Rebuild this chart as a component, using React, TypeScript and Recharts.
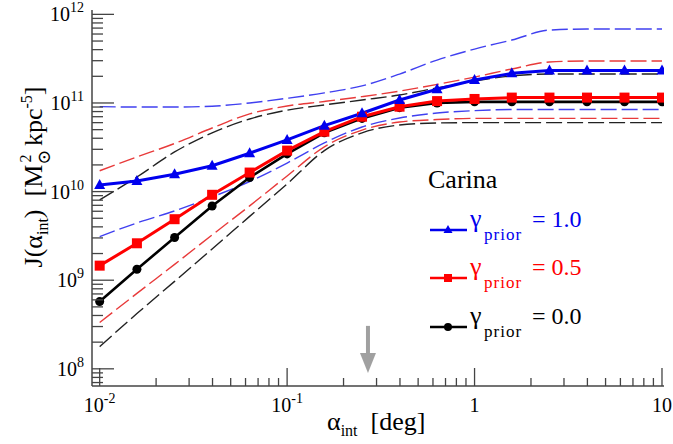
import React from 'react';
import { ComposedChart, Line, XAxis, YAxis, ReferenceDot } from 'recharts';

// alpha_int grid [deg]
const alphaInt = [0.01, 0.0158, 0.0251, 0.0398, 0.0631, 0.1, 0.158, 0.251, 0.398, 0.631, 1, 1.58, 2.51, 3.98, 6.31, 10];

// J(alpha_int) medians for each prior
const gamma10 = [1.19e10, 1.32e10, 1.57e10, 1.96e10, 2.71e10, 3.83e10, 5.55e10, 7.65e10, 1.08e11, 1.43e11, 1.82e11, 2.16e11, 2.33e11, 2.33e11, 2.33e11, 2.33e11];
const gamma05 = [1.46e9, 2.61e9, 4.88e9, 9.2e9, 1.64e10, 2.9e10, 4.74e10, 7.0e10, 9.08e10, 1.05e11, 1.11e11, 1.15e11, 1.15e11, 1.15e11, 1.15e11, 1.15e11];
const gamma00 = [5.74e8, 1.33e9, 3.03e9, 6.88e9, 1.44e10, 2.66e10, 4.6e10, 6.7e10, 8.85e10, 1.0e11, 1.03e11, 1.03e11, 1.03e11, 1.03e11, 1.03e11, 1.03e11];

// confidence bands (dashed)
const gamma10Hi = [9.1e10, 9.0e10, 9.0e10, 9.2e10, 1.0e11, 1.13e11, 1.3e11, 1.56e11, 2.12e11, 3.05e11, 4.06e11, 5.13e11, 6.65e11, 6.83e11, 6.83e11, 6.83e11];
const gamma10Lo = [3.1e9, 4.43e9, 6.05e9, 8.7e9, 1.3e10, 2.1e10, 3.54e10, 5.36e10, 6.77e10, 7.7e10, 8.2e10, 8.44e10, 8.44e10, 8.44e10, 8.44e10, 8.44e10];
const gamma05Hi = [1.72e10, 2.46e10, 3.49e10, 5.22e10, 7.52e10, 9.25e10, 1.04e11, 1.18e11, 1.36e11, 1.62e11, 1.96e11, 2.42e11, 2.9e11, 2.98e11, 2.98e11, 2.98e11];
const gamma05Lo = [3.33e8, 7.1e8, 1.51e9, 3.24e9, 6.9e9, 1.5e10, 3.2e10, 4.95e10, 6.1e10, 6.5e10, 6.7e10, 6.7e10, 6.7e10, 6.7e10, 6.7e10, 6.7e10];
const gamma00Hi = [8.05e9, 1.46e10, 2.8e10, 4.6e10, 6.6e10, 8.3e10, 9.5e10, 1.08e11, 1.23e11, 1.48e11, 1.77e11, 2.02e11, 2.12e11, 2.12e11, 2.12e11, 2.12e11];
const gamma00Lo = [1.78e8, 4.2e8, 9.7e8, 2.25e9, 5.25e9, 1.22e10, 2.9e10, 4.6e10, 5.65e10, 5.95e10, 6.0e10, 6.0e10, 6.0e10, 6.0e10, 6.0e10, 6.0e10];

const xMajorTicks = [0.01, 0.1, 1, 10];
const xMinorTicks = [2, 3, 4, 5, 6, 7, 8, 9].flatMap((m) => [m * 0.01, m * 0.1, m]);
const yMajorTicks = [1e8, 1e9, 1e10, 1e11, 1e12];
const yMinorTicks = [7e7, 8e7, 9e7, ...[2, 3, 4, 5, 6, 7, 8, 9].flatMap((m) => [m * 1e8, m * 1e9, m * 1e10, m * 1e11])];

const legendLabels = ['= 1.0', '= 0.5', '= 0.0'];
const arrowAlpha = 0.27;
const arrowTipJ = 9e7;

const data = alphaInt.map((a, i) => ({
    a,
    g10: gamma10[i], g05: gamma05[i], g00: gamma00[i],
    g10Hi: gamma10Hi[i], g10Lo: gamma10Lo[i],
    g05Hi: gamma05Hi[i], g05Lo: gamma05Lo[i],
    g00Hi: gamma00Hi[i], g00Lo: gamma00Lo[i],
}));

const FONT = "'Liberation Serif', 'Times New Roman', Times, 'DejaVu Serif', serif";
const AXIS = '#444';
const BLUE = '#0000ee';
const RED = '#ff0000';
const BLACK = '#000000';

function expLabel(v: number) {
    const e = Math.round(Math.log10(v));
    if (e === 0) return { base: '1', sup: '' };
    if (e === 1) return { base: '10', sup: '' };
    return { base: '10', sup: String(e) };
}

function XTick(props: any) {
    const { x, y, payload, side } = props;
    const major = xMajorTicks.includes(payload.value);
    const len = major ? 18 : 8;
    const dir = side === 'bottom' ? -1 : 1;
    const lab = expLabel(payload.value);
    return (
        <g>
            <line x1={x} x2={x} y1={y} y2={y + dir * len} stroke={AXIS} strokeWidth={1.3} />
            {side === 'bottom' && major && (
                <text x={x} y={y + 26} textAnchor="middle" style={{ fontFamily: FONT }} fontSize={20} fill="#000">
                    {lab.base}
                    {lab.sup && <tspan dy={-9} fontSize={14}>{lab.sup}</tspan>}
                </text>
            )}
        </g>
    );
}

function YTick(props: any) {
    const { x, y, payload, side } = props;
    const major = yMajorTicks.includes(payload.value);
    const len = major ? 22 : 11;
    const dir = side === 'left' ? 1 : -1;
    const lab = expLabel(payload.value);
    return (
        <g>
            <line x1={x} x2={x + dir * len} y1={y} y2={y} stroke={AXIS} strokeWidth={1.3} />
            {side === 'left' && major && (
                <text x={x - 8} y={y + 7} textAnchor="end" style={{ fontFamily: FONT }} fontSize={20} fill="#000">
                    {lab.base}
                    <tspan dy={-9} fontSize={14}>{lab.sup}</tspan>
                </text>
            )}
        </g>
    );
}

const triangleDot = (p: any) => (
    <polygon key={`t${p.index}`} points={`${p.cx},${p.cy - 6} ${p.cx - 5.5},${p.cy + 4} ${p.cx + 5.5},${p.cy + 4}`} fill={BLUE} />
);
const squareDot = (p: any) => (
    <rect key={`s${p.index}`} x={p.cx - 5} y={p.cy - 5} width={10} height={10} fill={RED} />
);
const circleDot = (p: any) => (
    <circle key={`c${p.index}`} cx={p.cx} cy={p.cy} r={4.5} fill={BLACK} />
);

const ArrowShape = (p: any) => (
    <g>
        <line x1={p.cx} x2={p.cx} y1={p.cy - 47} y2={p.cy - 18} stroke="#a0a0a0" strokeWidth={4} />
        <polygon points={`${p.cx - 8},${p.cy - 20} ${p.cx + 8},${p.cy - 20} ${p.cx},${p.cy}`} fill="#a0a0a0" />
    </g>
);

const legendRows = [
    { y: 230, color: BLUE, dot: 'tri' },
    { y: 278, color: RED, dot: 'sq' },
    { y: 327, color: BLACK, dot: 'circ' },
];

export default function App() {
    const ticksX = [...xMajorTicks, ...xMinorTicks];
    const ticksY = [...yMajorTicks, ...yMinorTicks];
    const dash = '16 5';
    return (
        <div style={{ position: 'absolute', left: 0, top: 0, width: 673, height: 444, background: '#fff', fontFamily: FONT }}>
            <ComposedChart width={673} height={444} data={data} margin={{ top: 10, right: 9, bottom: 0, left: 0 }}>
                <XAxis xAxisId="b" dataKey="a" type="number" scale="log" domain={[0.0091, 10.25]} allowDataOverflow
                    ticks={ticksX} interval={0} tickSize={0} tickMargin={0} height={58}
                    stroke={AXIS} strokeWidth={1.5} tick={(p: any) => <XTick {...p} side="bottom" />} />
                <XAxis xAxisId="t" dataKey="a" type="number" scale="log" domain={[0.0091, 10.25]} allowDataOverflow
                    orientation="top" ticks={ticksX} interval={0} tickSize={0} tickMargin={0} height={0}
                    stroke={AXIS} strokeWidth={1.5} tick={(p: any) => <XTick {...p} side="top" />} />
                <YAxis yAxisId="l" type="number" scale="log" domain={[6.4e7, 1.12e12]} allowDataOverflow
                    ticks={ticksY} interval={0} tickSize={0} tickMargin={0} width={92}
                    stroke={AXIS} strokeWidth={1.5} tick={(p: any) => <YTick {...p} side="left" />} />
                <YAxis yAxisId="r" type="number" scale="log" domain={[6.4e7, 1.12e12]} allowDataOverflow
                    orientation="right" ticks={ticksY} interval={0} tickSize={0} tickMargin={0} width={0}
                    stroke={AXIS} strokeWidth={1.5} tick={(p: any) => <YTick {...p} side="right" />} />

                <Line xAxisId="b" yAxisId="l" dataKey="g10Hi" type="monotone" stroke="#4040f0" strokeWidth={1.4} strokeDasharray={dash} dot={false} isAnimationActive={false} />
                <Line xAxisId="b" yAxisId="l" dataKey="g10Lo" type="monotone" stroke="#4040f0" strokeWidth={1.4} strokeDasharray={dash} dot={false} isAnimationActive={false} />
                <Line xAxisId="b" yAxisId="l" dataKey="g05Hi" type="monotone" stroke="#e83a3a" strokeWidth={1.4} strokeDasharray={dash} dot={false} isAnimationActive={false} />
                <Line xAxisId="b" yAxisId="l" dataKey="g05Lo" type="monotone" stroke="#e83a3a" strokeWidth={1.4} strokeDasharray={dash} dot={false} isAnimationActive={false} />
                <Line xAxisId="b" yAxisId="l" dataKey="g00Hi" type="monotone" stroke="#222" strokeWidth={1.4} strokeDasharray={dash} dot={false} isAnimationActive={false} />
                <Line xAxisId="b" yAxisId="l" dataKey="g00Lo" type="monotone" stroke="#222" strokeWidth={1.4} strokeDasharray={dash} dot={false} isAnimationActive={false} />

                <Line xAxisId="b" yAxisId="l" dataKey="g00" type="linear" stroke={BLACK} strokeWidth={2.6} dot={circleDot} activeDot={false} isAnimationActive={false} />
                <Line xAxisId="b" yAxisId="l" dataKey="g05" type="linear" stroke={RED} strokeWidth={3} dot={squareDot} activeDot={false} isAnimationActive={false} />
                <Line xAxisId="b" yAxisId="l" dataKey="g10" type="linear" stroke={BLUE} strokeWidth={3} dot={triangleDot} activeDot={false} isAnimationActive={false} />

                <ReferenceDot xAxisId="b" yAxisId="l" x={arrowAlpha} y={arrowTipJ} shape={ArrowShape} />
            </ComposedChart>

            <svg width={673} height={444} style={{ position: 'absolute', left: 0, top: 0, pointerEvents: 'none', fontFamily: FONT }}>
                {/* axis titles */}
                <text x={327} y={430} fontSize={26} fill="#000">
                    α<tspan dy={6} fontSize={16}>int</tspan>
                    <tspan dy={-6}>{'\u00a0\u00a0[deg]'}</tspan>
                </text>
                <text transform="translate(42,177) rotate(-90)" textAnchor="middle" fontSize={26} fill="#000">
                    J(α<tspan dy={6} fontSize={16}>int</tspan>
                    <tspan dy={-6}>{')\u00a0\u00a0[M'}</tspan>
                    <tspan dy={8} fontSize={18}>⊙</tspan>
                    <tspan dx={-13} dy={-19} fontSize={16}>2</tspan>
                    <tspan dx={2} dy={11}>{'\u00a0kpc'}</tspan>
                    <tspan dy={-10} fontSize={16}>-5</tspan>
                    <tspan dy={10}>]</tspan>
                </text>

                {/* legend */}
                <text x={428} y={188} fontSize={26} fill="#000">Carina</text>
                {legendRows.map((r, i) => (
                    <g key={i}>
                        <line x1={430} x2={467} y1={r.y} y2={r.y} stroke={r.color} strokeWidth={2.5} />
                        {r.dot === 'tri' && <polygon points={`448,${r.y - 5} 443.5,${r.y + 3} 452.5,${r.y + 3}`} fill={r.color} />}
                        {r.dot === 'sq' && <rect x={444} y={r.y - 4} width={8} height={8} fill={r.color} />}
                        {r.dot === 'circ' && <circle cx={448} cy={r.y} r={4} fill={r.color} />}
                        <text x={470} y={r.y - 3} fontSize={26} fill={r.color}>γ</text>
                        <text x={484} y={r.y + 10} fontSize={17} fill={r.color} letterSpacing={1}>prior</text>
                        <text x={532} y={r.y - 3} fontSize={24} fill={r.color}>{legendLabels[i]}</text>
                    </g>
                ))}
            </svg>
        </div>
    );
}
